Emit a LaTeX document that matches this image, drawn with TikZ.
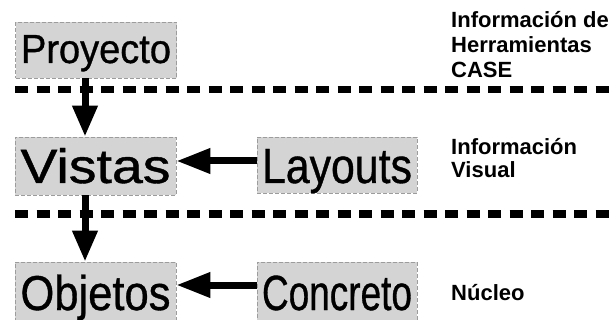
\documentclass[tikz,border=0pt]{standalone}
\usepackage{fontspec}
\setmainfont{Liberation Sans}
\newfontfamily\wordfont[FakeBold=0.8]{Liberation Sans}
\usetikzlibrary{arrows.meta}
\definecolor{boxgray}{HTML}{D4D4D4}
\definecolor{edgegray}{HTML}{9C9C9C}
\newcommand{\fitword}[2]{\resizebox{150pt}{#1}{\wordfont\fontsize{40}{40}\selectfont #2}}
\begin{document}
\begin{tikzpicture}[x=1pt, y=-1pt,
    layerbox/.style={draw=edgegray, line width=0.8pt, dash pattern=on 4pt off 2pt,
        fill=boxgray, rectangle, inner sep=0pt, minimum width=161pt},
    layertext/.style={anchor=base west, inner sep=0pt, align=left,
        font=\bfseries\fontsize{22}{25}\selectfont},
    sepline/.style={line width=7pt, dash pattern=on 13pt off 8.5pt},
    downarrow/.style={line width=7pt, -{Triangle[length=31pt, width=24pt]}},
    leftarrow/.style={line width=7pt, -{Triangle[length=34pt, width=24pt]}}]
    \useasboundingbox (0,0) rectangle (612,320);
    % capas
    \draw[sepline] (15,90) -- (612,90);
    \draw[sepline] (15,214) -- (612,214);
    % bloques
    \node[layerbox, text height=41pt, text depth=15pt] (proyecto) at (96,50) {\fitword{28pt}{Proyecto}};
    \node[layerbox, text height=46pt, text depth=12pt] (vistas) at (95.5,166) {\fitword{35pt}{Vistas}};
    \node[layerbox, text height=46pt, text depth=10pt, minimum width=160pt] (layouts) at (337,165) {\fitword{34pt}{Layouts}};
    \node[layerbox, text height=48pt, text depth=12pt] (objetos) at (95.5,292) {\fitword{35.5pt}{Objetos}};
    \node[layerbox, text height=48pt, text depth=12pt, minimum width=160pt] (concreto) at (337,292) {\fitword{34.5pt}{Concreto}};
    % flechas
    \draw[downarrow] ([xshift=-11pt]proyecto.south) -- ([xshift=-10.5pt]vistas.north);
    \draw[downarrow] ([xshift=-10.5pt]vistas.south) -- ([xshift=-10.5pt]objetos.north);
    \draw[leftarrow] ([yshift=4pt]layouts.west) -- ([yshift=5pt]vistas.east);
    \draw[leftarrow] ([yshift=7pt]concreto.west) -- ([yshift=7pt]objetos.east);
    % etiquetas (base = ultima linea)
    \node[layertext] (herramientas) at (451,78) {Información de\\Herramientas\\CASE};
    \node[layertext, font=\bfseries\fontsize{22}{23}\selectfont] (visual) at (451,178) {Información\\Visual};
    \node[layertext] (nucleo) at (451,300) {Núcleo};
\end{tikzpicture}
\end{document}
